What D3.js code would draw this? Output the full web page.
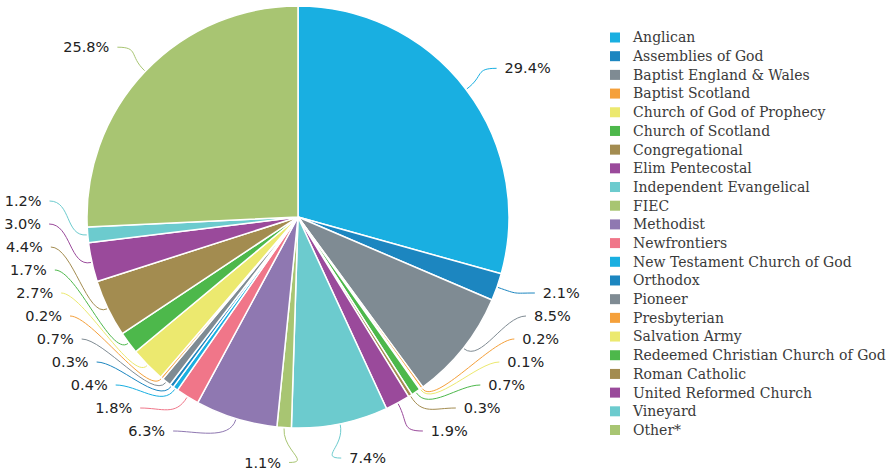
<!DOCTYPE html>
<html>
<head>
<meta charset="utf-8">
<script src="https://cdn.jsdelivr.net/npm/d3@7"></script>
<style>
  body { margin: 0; background: #fff; }
  svg { display: block; }
  .pct { font-family: Verdana, "DejaVu Sans", sans-serif; font-size: 14.5px; fill: #222; }
  .legend text { font-family: "DejaVu Serif", serif; font-size: 14px; fill: #3a3a3a; }
</style>
</head>
<body>
<div id="chart"></div>
<script>
/* ---------- data ---------- */
const categories = [
  "Anglican", "Assemblies of God", "Baptist England & Wales", "Baptist Scotland",
  "Church of God of Prophecy", "Church of Scotland", "Congregational", "Elim Pentecostal",
  "Independent Evangelical", "FIEC", "Methodist", "Newfrontiers",
  "New Testament Church of God", "Orthodox", "Pioneer", "Presbyterian",
  "Salvation Army", "Redeemed Christian Church of God", "Roman Catholic",
  "United Reformed Church", "Vineyard", "Other*"
];
const shares = [
  29.4, 2.1, 8.5, 0.2, 0.1, 0.7, 0.3, 1.9, 7.4, 1.1, 6.3, 1.8,
  0.4, 0.3, 0.7, 0.2, 2.7, 1.7, 4.4, 3.0, 1.2, 25.8
];
const palette = [
  "#19afe1", "#1c86c0", "#7f8b93", "#f5a03a", "#ece96f", "#4db84b",
  "#a38c50", "#9a4a9b", "#6ccbce", "#a8c572", "#8f78b1", "#f07689"
];
// slices after Newfrontiers start the palette over again
const sliceColors = [
  0, 1, 2, 3, 4, 5, 6, 7, 8, 9, 10, 11,
  0, 1, 2, 3, 4, 5, 6, 7, 8, 9
].map(i => palette[i]);

/* ---------- layout ---------- */
const W = 892, H = 471;
const cx = 298, cy = 217, R = 211;
const fmt = d3.format(".1f");

const svg = d3.select("#chart").append("svg")
  .attr("width", W).attr("height", H);

const pie = d3.pie().sort(null).value(d => d.v);
const arcs = pie(shares.map((v, i) => ({ v, i })));
const arc = d3.arc().innerRadius(0).outerRadius(R);

const g = svg.append("g").attr("transform", `translate(${cx},${cy})`);

g.selectAll("path.slice")
  .data(arcs)
  .join("path")
    .attr("class", "slice")
    .attr("d", arc)
    .attr("fill", d => sliceColors[d.data.i])
    .attr("stroke", "#fff")
    .attr("stroke-width", 1.5)
    .attr("stroke-linejoin", "round");

/* ---------- label placement ---------- */
// labels near 6 o'clock keep their own spot, the rest stack on each side
const Ry = 246, ex = 257, ey = 250, gap = 23, stackMax = R + 3;
const bottomZone = 15 * Math.PI / 180;
const labels = arcs.map(d => {
  const a = (d.startAngle + d.endAngle) / 2;
  return {
    d, a,
    side: a < Math.PI ? 1 : -1,
    bottom: Math.abs(a - Math.PI) < bottomZone,
    y: -Ry * Math.cos(a)
  };
});

[1, -1].forEach(side => {
  const col = labels.filter(l => l.side === side).sort((p, q) => q.y - p.y);
  let prev = Infinity;
  col.forEach(l => {
    l.y = Math.min(l.y, prev - gap);
    if (!l.bottom) l.y = Math.min(l.y, stackMax);
    prev = l.y;
  });
});

labels.forEach(l => {
  if (l.bottom) {
    l.x = ex * Math.sin(l.a);
  } else {
    const t = Math.max(0, 1 - (l.y / ey) ** 2);
    l.x = l.side * ex * Math.sqrt(t);
  }
});

const lineGen = l => {
  const ux = Math.sin(l.a), uy = -Math.cos(l.a);
  const p3 = [ux * (R + 1), uy * (R + 1)];
  const p0 = [l.x - l.side * 8, l.y];
  const p1 = [p0[0] - l.side * 22, p0[1]];
  const p2 = [p3[0] + ux * 22, p3[1] + uy * 22];
  const p = d3.path();
  p.moveTo(p0[0], p0[1]);
  p.bezierCurveTo(p1[0], p1[1], p2[0], p2[1], p3[0], p3[1]);
  return p.toString();
};

g.selectAll("path.leader")
  .data(labels)
  .join("path")
    .attr("class", "leader")
    .attr("d", lineGen)
    .attr("fill", "none")
    .attr("stroke", l => sliceColors[l.d.data.i])
    .attr("stroke-width", 1);

g.selectAll("text.pct")
  .data(labels)
  .join("text")
    .attr("class", "pct")
    .attr("x", l => l.x)
    .attr("y", l => l.y)
    .attr("dy", "0.35em")
    .attr("text-anchor", l => l.side > 0 ? "start" : "end")
    .text(l => fmt(l.d.data.v) + "%");

/* ---------- legend ---------- */
const legend = svg.append("g").attr("class", "legend")
  .attr("transform", "translate(610,37.5)");
const row = d3.scalePoint().domain(categories).range([0, 392.5]);

const item = legend.selectAll("g")
  .data(categories)
  .join("g")
    .attr("transform", c => `translate(0,${row(c)})`);

item.append("rect")
  .attr("x", 0).attr("y", -5)
  .attr("width", 10).attr("height", 10)
  .attr("fill", (c, i) => sliceColors[i]);

item.append("text")
  .attr("x", 23)
  .attr("dy", "0.35em")
  .text(c => c);
</script>
</body>
</html>
